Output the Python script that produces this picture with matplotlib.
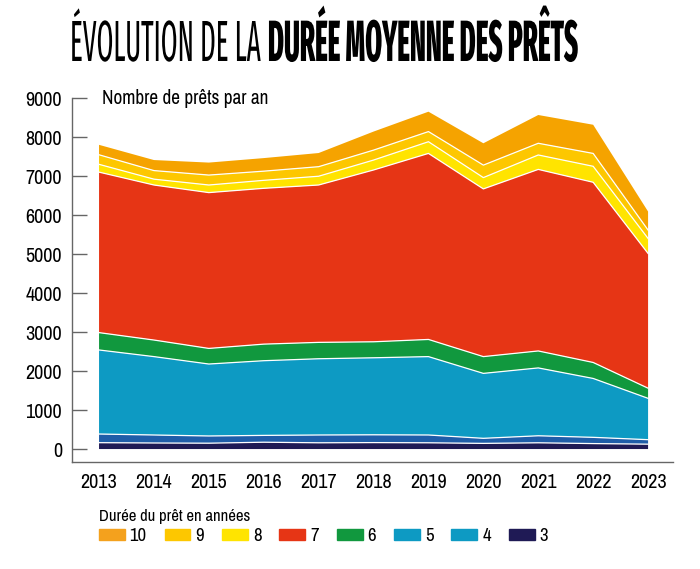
import numpy as np
import matplotlib
matplotlib.use('Agg')
import matplotlib.pyplot as plt
from matplotlib.patches import Patch
from matplotlib.patheffects import AbstractPathEffect
from matplotlib.transforms import Affine2D

BODY = ['Archivo Narrow', 'Liberation Sans', 'DejaVu Sans']
TITLE = ['Fira Sans Extra Condensed', 'Liberation Sans', 'DejaVu Sans']
plt.rcParams['font.family'] = BODY

years = [2013, 2014, 2015, 2016, 2017, 2018, 2019, 2020, 2021, 2022, 2023]

# nombre de prets par duree (annees)
d3 = [163, 155, 150, 175, 160, 165, 160, 145, 160, 140, 125]
d4 = [222, 205, 185, 175, 200, 200, 200, 130, 180, 160, 115]
d5 = [2155, 2010, 1845, 1915, 1955, 1975, 2010, 1665, 1740, 1510, 1060]
d6 = [445, 425, 400, 425, 420, 410, 440, 430, 435, 410, 260]
d7 = [4115, 3975, 3995, 3995, 4035, 4405, 4770, 4300, 4655, 4620, 3455]
d8 = [200, 150, 195, 205, 225, 255, 300, 290, 370, 410, 385]
d9 = [245, 220, 255, 235, 245, 255, 260, 320, 300, 330, 215]
d10 = [255, 270, 320, 335, 350, 475, 510, 560, 725, 735, 475]

series = [d3, d4, d5, d6, d7, d8, d9, d10]
labels = ['3', '4', '5', '6', '7', '8', '9', '10']
colors = ['#1f1a55', '#1f5da8', '#0d9ac3', '#11983e', '#e63515',
          '#ffe400', '#fdc700', '#f5a300']
legend_colors = ['#1f1a55', '#0d9ac3', '#0d9ac3', '#11983e', '#e63515',
                 '#ffe400', '#fdc700', '#f4a11d']


class StretchY(AbstractPathEffect):
    # etire le texte verticalement autour de sa ligne de base
    def __init__(self, y0, sy):
        super().__init__()
        self.y0 = y0
        self.sy = sy

    def draw_path(self, renderer, gc, tpath, affine, rgbFace=None):
        t = affine + Affine2D().translate(0, -self.y0).scale(1, self.sy).translate(0, self.y0)
        renderer.draw_path(gc, tpath, t, rgbFace)


fig = plt.figure(figsize=(7, 5.69), dpi=100)
ax = fig.add_axes([0.1029, 0.188, 0.8586, 0.6397])

ax.stackplot(years, *series, colors=colors, linewidth=0)
cum = np.cumsum(np.array(series), axis=0)
for row in cum[:-1]:
    ax.plot(years, row, color='white', lw=0.9)

ax.set_xlim(2012.508, 2023.455)
ax.set_ylim(-333, 9000)
ax.set_yticks(range(0, 9001, 1000))
ax.set_xticks(years)
ax.tick_params(axis='y', direction='in', length=10.8, width=1, color='#666666',
               pad=7.2, labelsize=14.5)
ax.tick_params(axis='x', length=0, pad=8, labelsize=14.5)
for s in ['top', 'right']:
    ax.spines[s].set_visible(False)
for s in ['left', 'bottom']:
    ax.spines[s].set_color('#666666')
    ax.spines[s].set_linewidth(1)

fig.text(101.7 / 700, 1 - 103.5 / 569, 'Nombre de prêts par an', fontsize=13.9,
         va='baseline', ha='left')

# titre : largeur 508 px, hauteur des capitales 40 px
base = 569 - 61
t1 = fig.text(70 / 700, base / 569, 'ÉVOLUTION DE LA ', fontsize=20, family=TITLE,
              fontweight='normal', va='baseline', ha='left')
t2 = fig.text(0.5, base / 569, 'DURÉE MOYENNE DES PRÊTS', fontsize=20, family=TITLE,
              fontweight='heavy', va='baseline', ha='left')
fig.canvas.draw()
w = t1.get_window_extent().width + t2.get_window_extent().width
tsize = 20 * 508 / w
sy = 40 / (0.689 * tsize * 100 / 72)
for t in (t1, t2):
    t.set_fontsize(tsize)
    t.set_path_effects([StretchY(base, sy)])
fig.canvas.draw()
t2.set_x(t1.get_window_extent().x1 / 700)

handles = [Patch(color=c) for c in legend_colors[::-1]]
fig.legend(handles, labels[::-1], ncol=8, loc='upper left',
           bbox_to_anchor=(98.7 / 700, 1 - 509.5 / 569), frameon=False,
           title='Durée du prêt en années', alignment='left',
           fontsize=13.5, title_fontsize=12, borderpad=0, borderaxespad=0,
           handlelength=1.38, handleheight=0.58, handletextpad=0.27,
           columnspacing=0.95, labelspacing=0.2)

fig.savefig('out.png', dpi=100)
